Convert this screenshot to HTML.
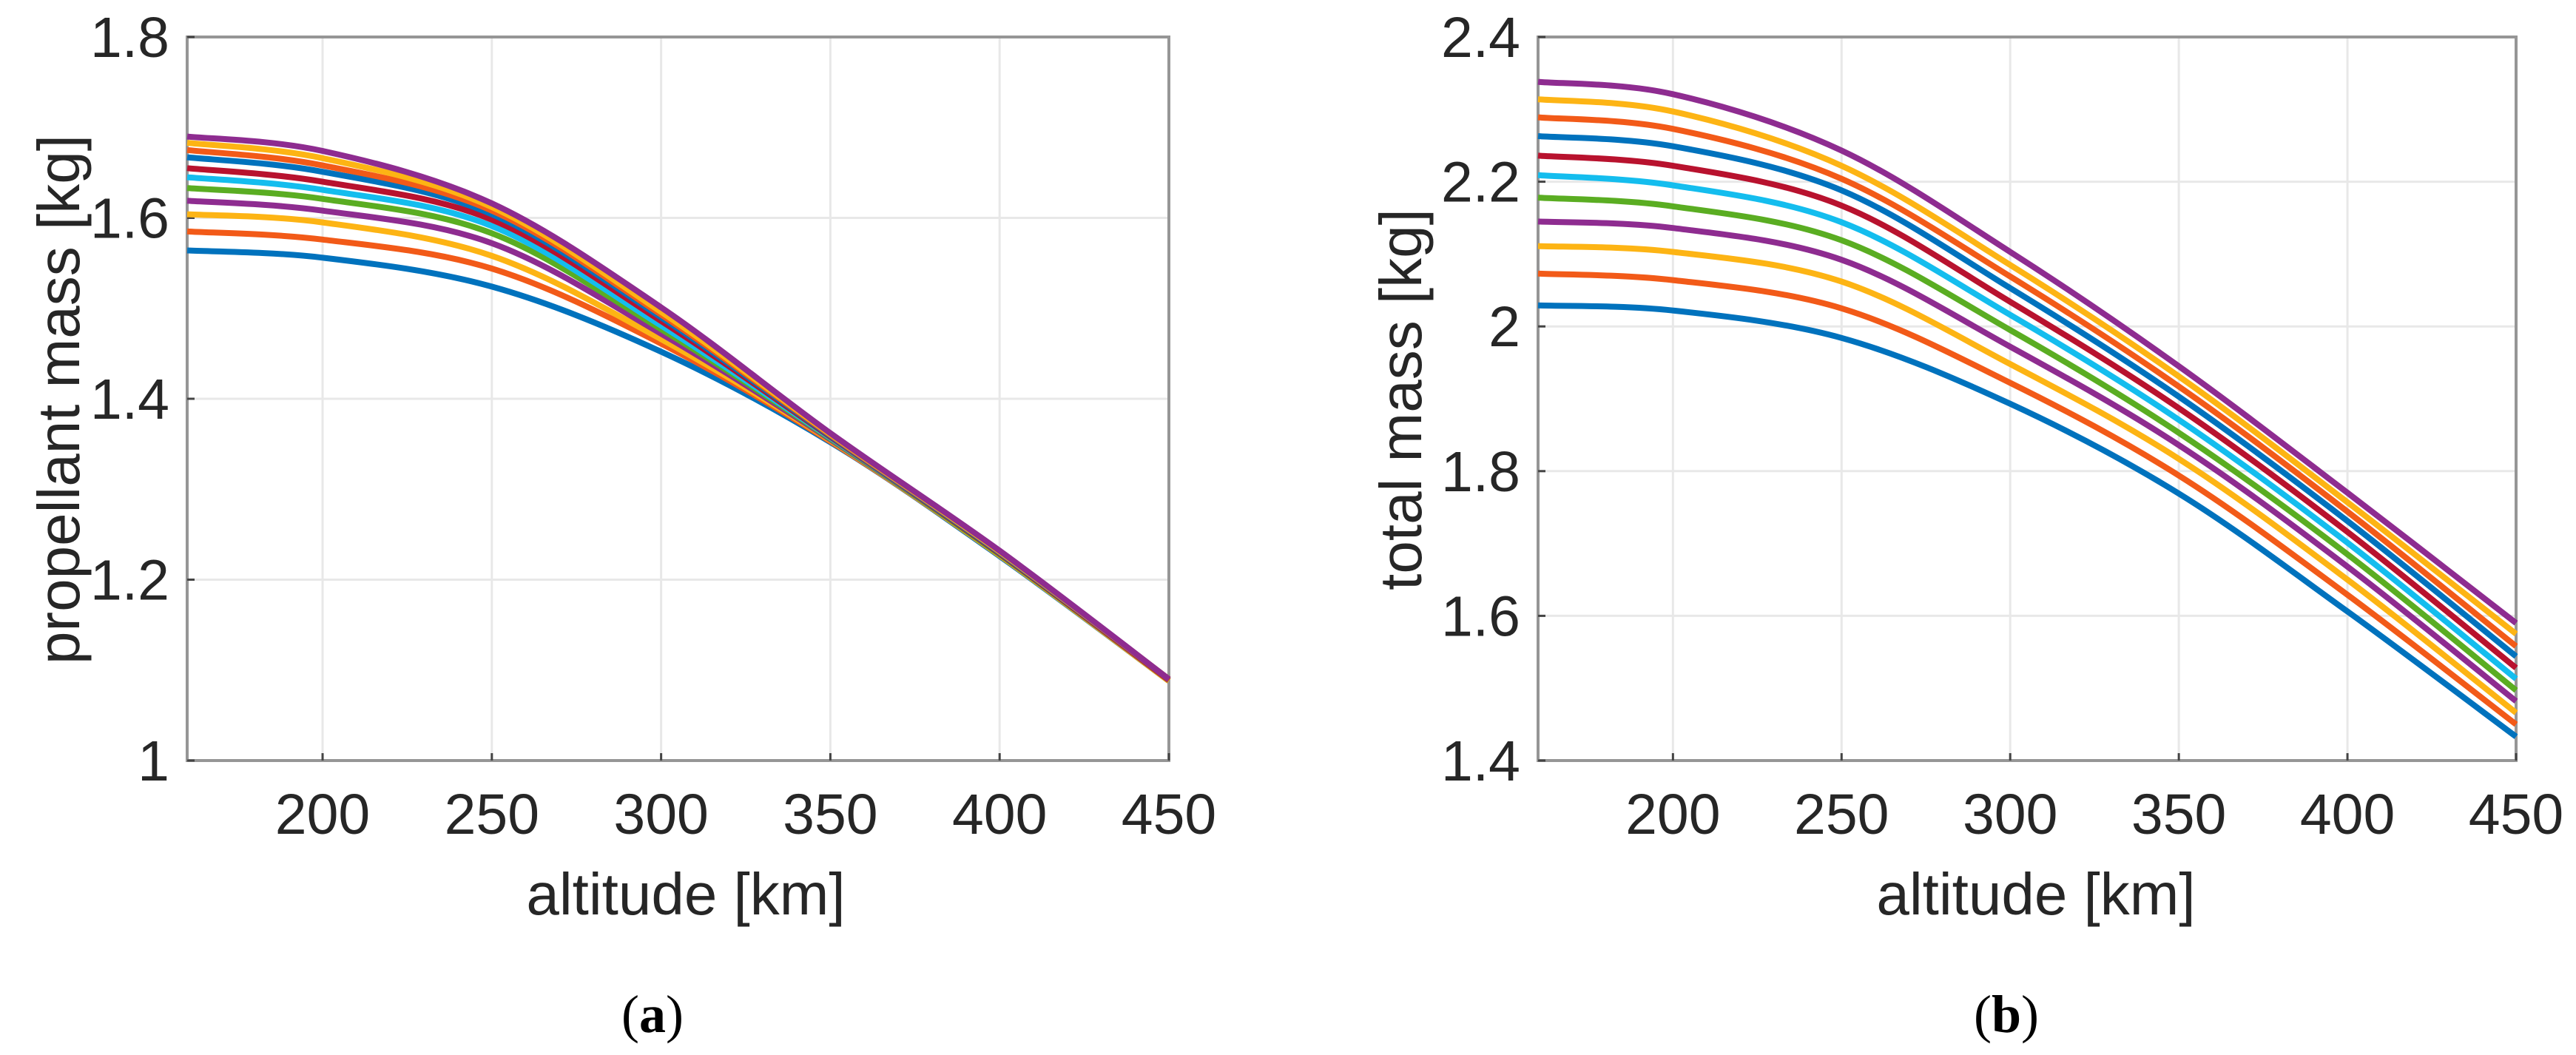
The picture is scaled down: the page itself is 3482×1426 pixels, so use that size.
<!DOCTYPE html>
<html><head><meta charset="utf-8"><style>
html,body{margin:0;padding:0;background:#fff;}
svg{display:block;}
text{font-family:"Liberation Sans",Arial,sans-serif;fill:#262626;}
.cap{font-family:"Liberation Serif",serif;fill:#000;}
</style></head>
<body>
<svg id="fig" width="3482" height="1426" viewBox="0 0 3482 1426" xmlns="http://www.w3.org/2000/svg">
<g id="pa"></g>
<g id="pb"></g>
<text class="cap" x="882" y="1395" font-size="72" text-anchor="middle">(<tspan font-weight="bold">a</tspan>)</text>
<text class="cap" x="2712" y="1395" font-size="72" text-anchor="middle">(<tspan font-weight="bold">b</tspan>)</text>
</svg>
<script>
const altitudes = [160, 200, 250, 300, 350, 400, 450];
const xTicks = [200, 250, 300, 350, 400, 450];
const seriesColors = ["#0072bd","#f25a18","#fdb414","#8e2c90","#5aad22","#14bdee","#b8122e","#0072bd","#f25a18","#fdb414","#8e2c90"];
const yTicksA = [1, 1.2, 1.4, 1.6, 1.8];
const yTickLabelsA = ["1","1.2","1.4","1.6","1.8"];
const propellantMass = [
 [1.564,1.556,1.524,1.452,1.352,1.226,1.088],
 [1.585,1.576,1.544,1.461,1.353,1.227,1.088],
 [1.604,1.595,1.558,1.466,1.354,1.227,1.088],
 [1.619,1.608,1.572,1.472,1.355,1.228,1.089],
 [1.633,1.621,1.583,1.477,1.356,1.228,1.089],
 [1.645,1.631,1.591,1.481,1.357,1.229,1.089],
 [1.655,1.640,1.598,1.486,1.358,1.229,1.089],
 [1.667,1.651,1.604,1.490,1.359,1.230,1.090],
 [1.675,1.658,1.608,1.493,1.360,1.231,1.090],
 [1.683,1.666,1.612,1.496,1.361,1.231,1.090],
 [1.690,1.674,1.616,1.501,1.362,1.232,1.090]
];
const yTicksB = [1.4, 1.6, 1.8, 2, 2.2, 2.4];
const yTickLabelsB = ["1.4","1.6","1.8","2","2.2","2.4"];
const totalMass = [
 [2.029,2.022,1.984,1.893,1.769,1.606,1.433],
 [2.073,2.064,2.025,1.922,1.794,1.629,1.450],
 [2.111,2.103,2.062,1.948,1.817,1.650,1.466],
 [2.145,2.136,2.092,1.972,1.836,1.668,1.482],
 [2.178,2.166,2.119,1.995,1.853,1.685,1.497],
 [2.209,2.195,2.144,2.016,1.871,1.701,1.513],
 [2.236,2.222,2.167,2.034,1.887,1.716,1.528],
 [2.263,2.249,2.188,2.053,1.903,1.731,1.544],
 [2.289,2.273,2.204,2.069,1.917,1.744,1.558],
 [2.314,2.297,2.222,2.085,1.931,1.757,1.575],
 [2.338,2.321,2.243,2.103,1.945,1.770,1.590]
];
const NS="http://www.w3.org/2000/svg";
function mk(tag, attrs, parent){const e=document.createElementNS(NS,tag);for(const k in attrs)e.setAttribute(k,attrs[k]);parent.appendChild(e);return e;}
function smoothPath(pts){
  let d="M"+pts[0][0].toFixed(1)+","+pts[0][1].toFixed(1);
  for(let i=0;i<pts.length-1;i++){
    const p0=pts[Math.max(0,i-1)],p1=pts[i],p2=pts[i+1],p3=pts[Math.min(pts.length-1,i+2)];
    const c1=[p1[0]+(p2[0]-p0[0])/6,p1[1]+(p2[1]-p0[1])/6];
    const c2=[p2[0]-(p3[0]-p1[0])/6,p2[1]-(p3[1]-p1[1])/6];
    d+=" C"+c1[0].toFixed(1)+","+c1[1].toFixed(1)+" "+c2[0].toFixed(1)+","+c2[1].toFixed(1)+" "+p2[0].toFixed(1)+","+p2[1].toFixed(1);
  }
  return d;
}
function drawPanel(g, L, R, T, B, xmin, xmax, ymin, ymax, yTicks, yLabels, data, ylabel, ylabX, xlabX){
  const sx=v=>L+(v-xmin)/(xmax-xmin)*(R-L);
  const sy=v=>B-(v-ymin)/(ymax-ymin)*(B-T);
  xTicks.forEach(t=>{
    if(t<xmax){const l=mk("line",{x1:sx(t),x2:sx(t),y1:T,y2:B,stroke:"#e8e8e8","stroke-width":3},g);
    
    }
  });
  yTicks.forEach(t=>{
    if(t>ymin&&t<ymax){const l=mk("line",{x1:L,x2:R,y1:sy(t),y2:sy(t),stroke:"#e8e8e8","stroke-width":3},g);
    
    }
  });
  const frame=mk("rect",{x:L,y:T,width:R-L,height:B-T,fill:"none",stroke:"#969696","stroke-width":4},g);
  
  
  xTicks.forEach(t=>{
    const tk=mk("line",{x1:sx(t),x2:sx(t),y1:B,y2:B-10,stroke:"#444","stroke-width":3},g);
    
    
    const tx=mk("text",{x:sx(t),y:1127,"font-size":77,"text-anchor":"middle"},g);
    tx.textContent=String(t);
    
    
  });
  yTicks.forEach((t,i)=>{
    const tk=mk("line",{x1:L,x2:L+10,y1:sy(t),y2:sy(t),stroke:"#444","stroke-width":3},g);
    
    
    const tx=mk("text",{x:L-24,y:sy(t)+27,"font-size":77,"text-anchor":"end"},g);
    tx.textContent=yLabels[i];
    
    
  });
  data.forEach((s,i)=>{
    const pts=s.map((v,j)=>[sx(altitudes[j]),sy(v)]);
    const p=mk("path",{d:smoothPath(pts),fill:"none",stroke:seriesColors[i],"stroke-width":8,"stroke-linecap":"butt"},g);
    
    
  });
  const xl=mk("text",{x:xlabX,y:1236,"font-size":80,"text-anchor":"middle"},g);
  xl.textContent="altitude [km]";
  
  
  const yl=mk("text",{x:0,y:0,"font-size":80,"text-anchor":"middle",transform:"translate("+(ylabX+28)+",540) rotate(-90)"},g);
  yl.textContent=ylabel;
  
  
}
drawPanel(document.getElementById("pa"),253,1580,50,1028,160,450,1,1.8,yTicksA,yTickLabelsA,propellantMass,"propellant mass [kg]",79,927);
drawPanel(document.getElementById("pb"),2079,3401,50,1028,160,450,1.4,2.4,yTicksB,yTickLabelsB,totalMass,"total mass [kg]",1893,2752);
</script>
</body></html>
